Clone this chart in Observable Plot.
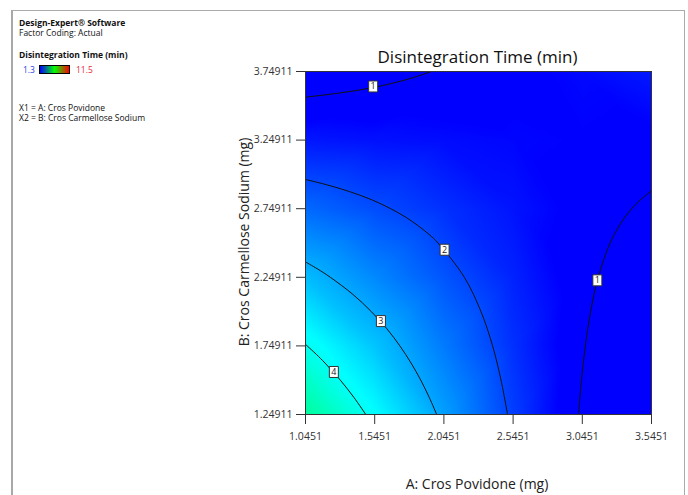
<!DOCTYPE html>
<html><head><meta charset="utf-8">
<script src="https://cdn.jsdelivr.net/npm/d3@7"></script>
<script src="https://cdn.jsdelivr.net/npm/@observablehq/plot@0.6"></script>
<style>
body{margin:0;background:#fff;}
#wrap{position:relative;width:688px;height:495px;overflow:hidden;font-family:'Open Sans',sans-serif;color:#111;}
#wrap svg{position:absolute;left:0;top:0;}
.t{position:absolute;white-space:nowrap;line-height:normal;}
</style></head><body><div id="wrap"></div>
<script>
// ---- data ----
const title = "Disintegration Time (min)";
const xLabel = "A: Cros Povidone (mg)";
const yLabel = "B: Cros Carmellose Sodium (mg)";
const xTicks = [1.0451, 1.5451, 2.0451, 2.5451, 3.0451, 3.5451];
const xTickLabels = ["1.0451", "1.5451", "2.0451", "2.5451", "3.0451", "3.5451"];
const yTicks = [1.24911, 1.74911, 2.24911, 2.74911, 3.24911, 3.74911];
const yTickLabels = ["1.24911", "1.74911", "2.24911", "2.74911", "3.24911", "3.74911"];

// response (min) estimated at the tick crossings, rows = B ascending, cols = A ascending
const gridA = [1.0451, 1.5451, 2.0451, 2.5451, 3.0451, 3.5451];
const gridB = [1.24911, 1.74911, 2.24911, 2.74911, 3.24911, 3.74911];
const gridValues = [
  [4.85, 3.87, 2.90, 1.92, 0.95, -0.03],
  [4.02, 3.27, 2.53, 1.78, 1.03, 0.29],
  [3.19, 2.67, 2.15, 1.64, 1.12, 0.60],
  [2.35, 2.07, 1.78, 1.49, 1.21, 0.92],
  [1.52, 1.46, 1.41, 1.35, 1.29, 1.23],
  [0.69, 0.86, 1.03, 1.21, 1.38, 1.55]
];

// contour lines [A, B]
const contour1Top = [[1.0451,3.562],[1.2951,3.593],[1.5451,3.634],[1.7951,3.696],[1.955,3.749]];
const contour1Right = [[3.018,1.249],[3.039,1.499],[3.067,1.749],[3.105,1.999],[3.160,2.249],[3.246,2.499],[3.312,2.624],[3.353,2.687],[3.402,2.749],[3.463,2.812],[3.5451,2.879]];
const contour2 = [[2.505,1.249],[2.458,1.499],[2.397,1.749],[2.313,1.999],[2.193,2.249],[2.003,2.499],[1.937,2.562],[1.860,2.624],[1.770,2.687],[1.661,2.749],[1.529,2.812],[1.363,2.874],[1.197,2.924],[1.0451,2.962]];
const contour3 = [[1.993,1.249],[1.939,1.374],[1.878,1.499],[1.808,1.624],[1.727,1.749],[1.633,1.874],[1.521,1.999],[1.388,2.124],[1.225,2.249],[1.129,2.312],[1.0451,2.361]];
const contour4 = [[1.4806,1.249],[1.3945,1.374],[1.297,1.499],[1.186,1.624],[1.124,1.687],[1.0451,1.760]];

// contour labels
const labelA = [1.534, 3.154, 2.05, 1.59, 1.25];
const labelB = [3.64, 2.227, 2.45, 1.93, 1.559];
const labelText = ["1", "1", "2", "3", "4"];

// colour ramp
const colorDomain = [1.3, 3.85, 6.4, 8.95, 11.5];
const colorRange = ["#0000ff", "#00ffff", "#00ff00", "#ffff00", "#ff0000"];

// ---- build tables ----
const grid = [];
gridB.forEach((b, j) => gridA.forEach((a, i) => grid.push({A: a, B: b, v: gridValues[j][i]})));
const lines = [];
[["1t", contour1Top], ["1r", contour1Right], ["2", contour2], ["3", contour3], ["4", contour4]]
  .forEach(([k, pts]) => pts.forEach(([a, b]) => lines.push({k, A: a, B: b})));
const labels = labelText.map((t, i) => ({A: labelA[i], B: labelB[i], t}));
const xFmt = new Map(xTicks.map((d, i) => [d, xTickLabels[i]]));
const yFmt = new Map(yTicks.map((d, i) => [d, yTickLabels[i]]));

const boxSymbol = {draw(ctx) { ctx.rect(-4.5, -5.5, 9, 11); }};

const chart = Plot.plot({
  width: 688, height: 495,
  marginLeft: 305, marginRight: 37, marginTop: 71, marginBottom: 81,
  x: {domain: [1.0451, 3.5451]},
  y: {domain: [1.24911, 3.74911]},
  color: {type: "linear", domain: colorDomain, range: colorRange, clamp: true, interpolate: "rgb"},
  style: {fontFamily: "'Open Sans', sans-serif", fontSize: "10.5px", background: "transparent"},
  marks: [
    Plot.raster(grid, {x: "A", y: "B", fill: "v", interpolate: "barycentric", pixelSize: 1}),
    Plot.line(lines, {x: "A", y: "B", z: "k", stroke: "#111", strokeWidth: 1, curve: "catmull-rom"}),
    Plot.dot(labels, {x: "A", y: "B", symbol: boxSymbol, fill: "white", stroke: "#333", strokeWidth: 1}),
    Plot.text(labels, {x: "A", y: "B", text: "t", fontSize: 9, fill: "#222"}),
    Plot.frame({stroke: "#333"}),
    Plot.axisX(xTicks, {anchor: "bottom", tickSize: 10, tickPadding: 8, tickFormat: d => xFmt.get(d), label: null, color: "#333"}),
    Plot.axisY(yTicks, {anchor: "left", tickSize: 9, tickPadding: 4, tickFormat: d => yFmt.get(d), label: null, color: "#333"})
  ]
});
const wrap = document.getElementById("wrap");
wrap.appendChild(chart);

function addText(txt, css) {
  const d = document.createElement("div");
  d.className = "t";
  d.textContent = txt;
  Object.assign(d.style, css);
  wrap.appendChild(d);
  return d;
}
// outer border
const border = document.createElement("div");
Object.assign(border.style, {position: "absolute", left: "11px", top: "10px", width: "671px", height: "520px",
  borderTop: "1px solid #aaa", borderRight: "1px solid #aaa", borderLeft: "2px solid #a8a8a8"});
wrap.appendChild(border);

addText(title, {left: "477.5px", top: "45px", fontSize: "17px", transform: "translateX(-50%)", color: "#111"});
addText(xLabel, {left: "477px", top: "474px", fontSize: "14px", transform: "translateX(-50%)", color: "#222"});
addText(yLabel, {left: "243px", top: "242px", fontSize: "14px", transform: "translate(-50%,-50%) rotate(-90deg)", color: "#222"});

addText("Design-Expert® Software", {left: "19px", top: "16.6px", fontSize: "8.5px", fontWeight: "bold"});
addText("Factor Coding: Actual", {left: "19px", top: "26.6px", fontSize: "8.5px"});
addText("Disintegration Time (min)", {left: "19px", top: "49.2px", fontSize: "8.5px", fontWeight: "bold"});
addText(String(colorDomain[0]), {left: "23px", top: "64.2px", fontSize: "8.5px", color: "#2a3ee8"});
addText(String(colorDomain[colorDomain.length - 1]), {left: "76px", top: "64.2px", fontSize: "8.5px", color: "#e8283c"});
const bar = document.createElement("div");
Object.assign(bar.style, {position: "absolute", left: "39px", top: "65px", width: "31px", height: "9px", boxSizing: "border-box",
  border: "1px solid #000", background: "linear-gradient(to right, #0000ff, #00ff00, #ff0000)"});
wrap.appendChild(bar);
addText("X1 = A: Cros Povidone", {left: "19px", top: "101.9px", fontSize: "8.5px"});
addText("X2 = B: Cros Carmellose Sodium", {left: "19px", top: "111.6px", fontSize: "8.5px"});
</script></body></html>
